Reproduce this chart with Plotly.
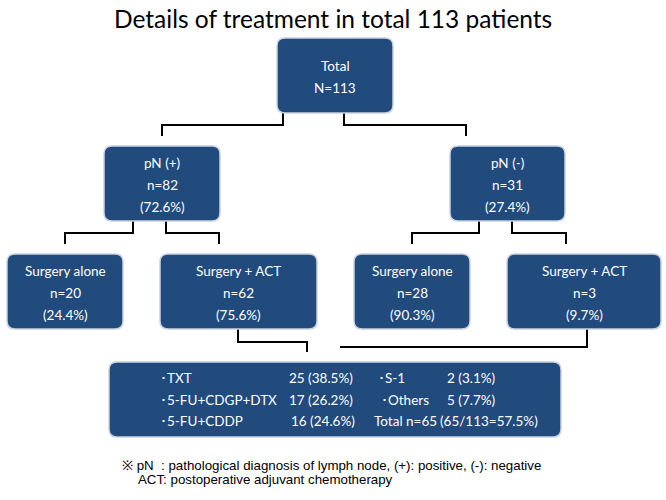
"""Flowchart: details of treatment in total 113 patients."""
import plotly.graph_objects as go

# ---- data ----
node_labels = ["Total", "pN (+)", "pN (-)", "Surgery alone", "Surgery + ACT",
               "Surgery alone", "Surgery + ACT"]
node_counts = [113, 82, 31, 20, 62, 28, 3]
node_pcts = [None, 72.6, 27.4, 24.4, 75.6, 90.3, 9.7]

regimens = ["TXT", "5-FU+CDGP+DTX", "5-FU+CDDP"]
regimen_counts = [25, 17, 16]
regimen_pcts = [38.5, 26.2, 24.6]
other_regimens = ["S-1", "Others"]
other_counts = [2, 5]
other_pcts = [3.1, 7.7]
act_total = 65
patients_total = 113
act_total_pct = 57.5

# ---- layout (pixel space, y down) ----
BOX = "#214a7d"
EDGE = "#c9d2de"
FONT = "Lato, 'Open Sans', sans-serif"

node_boxes = [
    (277, 393, 38, 113),
    (104, 220, 146, 221),
    (450, 565, 146, 221),
    (7, 123, 254, 329),
    (160, 317, 254, 329),
    (354, 470, 254, 329),
    (507, 661, 254, 329),
]
table_box = (109, 561, 362, 437)

connectors = [
    [(283, 113), (283, 125), (162, 125), (162, 136)],
    [(344, 113), (344, 125), (466, 125), (466, 136)],
    [(133, 221), (133, 233), (65, 233), (65, 244)],
    [(166, 221), (166, 233), (219, 233), (219, 244)],
    [(479, 221), (479, 233), (412, 233), (412, 244)],
    [(512, 221), (512, 233), (566, 233), (566, 244)],
    [(238, 329), (238, 342), (307, 342), (307, 352)],
    [(587, 329), (587, 347), (340, 347)],
]


def rounded(x0, x1, y0, y1, r=8):
    return (f"M{x0+r},{y0} L{x1-r},{y0} Q{x1},{y0} {x1},{y0+r} "
            f"L{x1},{y1-r} Q{x1},{y1} {x1-r},{y1} L{x0+r},{y1} "
            f"Q{x0},{y1} {x0},{y1-r} L{x0},{y0+r} Q{x0},{y0} {x0+r},{y0} Z")


fig = go.Figure()
shapes = []
annotations = []


def label(x, y, text, anchor="center", size=13.5, color="white", font=FONT):
    annotations.append(dict(
        x=x, y=y, text=text, showarrow=False, xanchor=anchor, yanchor="middle",
        font=dict(family=font, size=size, color=color),
    ))


for path in connectors:
    shapes.append(dict(
        type="path", line=dict(color="black", width=2),
        path="M" + " L".join(f"{x},{y}" for x, y in path),
    ))

for (x0, x1, y0, y1), name, n, pct in zip(node_boxes, node_labels, node_counts, node_pcts):
    shapes.append(dict(type="path", path=rounded(x0, x1, y0, y1),
                       fillcolor=BOX, line=dict(color=EDGE, width=1.5)))
    cx, cy = (x0 + x1) / 2, (y0 + y1) / 2
    if pct is None:
        lines = [name, f"N={n}"]
    else:
        lines = [name, f"n={n}", f"({pct}%)"]
    start = cy - (len(lines) - 1) * 11 + 1
    for i, t in enumerate(lines):
        label(cx, start + i * 22, t)

x0, x1, y0, y1 = table_box
shapes.append(dict(type="path", path=rounded(x0, x1, y0, y1),
                   fillcolor=BOX, line=dict(color=EDGE, width=1.5)))
row_y = [378, 400, 421]
for i, (r, n, p) in enumerate(zip(regimens, regimen_counts, regimen_pcts)):
    label(158, row_y[i], f"･{r}", anchor="left")
    label(287 + (2 if i == 2 else 0), row_y[i], f"{n} ({p}%)", anchor="left")
for i, (r, n, p) in enumerate(zip(other_regimens, other_counts, other_pcts)):
    label(376 + 3 * i, row_y[i], f"･{r}", anchor="left")
    label(445, row_y[i], f"{n} ({p}%)", anchor="left")
label(372, row_y[2], f"Total n={act_total}", anchor="left")
label(438, row_y[2], f"({act_total}/{patients_total}={act_total_pct}%)", anchor="left")

# title + footnote
label(333, 18, "Details of treatment in total 113 patients", size=24.5, color="black")
label(120, 465, "※ pN  : pathological diagnosis of lymph node, (+): positive, (-): negative",
      anchor="left", size=13.3, color="black", font="Liberation Sans, Arial")
label(136, 479, "ACT: postoperative adjuvant chemotherapy",
      anchor="left", size=13.3, color="black", font="Liberation Sans, Arial")

fig.update_layout(
    width=666, height=500,
    margin=dict(l=0, r=0, t=0, b=0),
    paper_bgcolor="white", plot_bgcolor="white",
    xaxis=dict(range=[0, 666], visible=False, fixedrange=True),
    yaxis=dict(range=[500, 0], visible=False, fixedrange=True),
    shapes=shapes, annotations=annotations,
    showlegend=False,
)

fig.write_html("out.html", config={"displayModeBar": False},
               post_script="document.body.style.margin='0';")
